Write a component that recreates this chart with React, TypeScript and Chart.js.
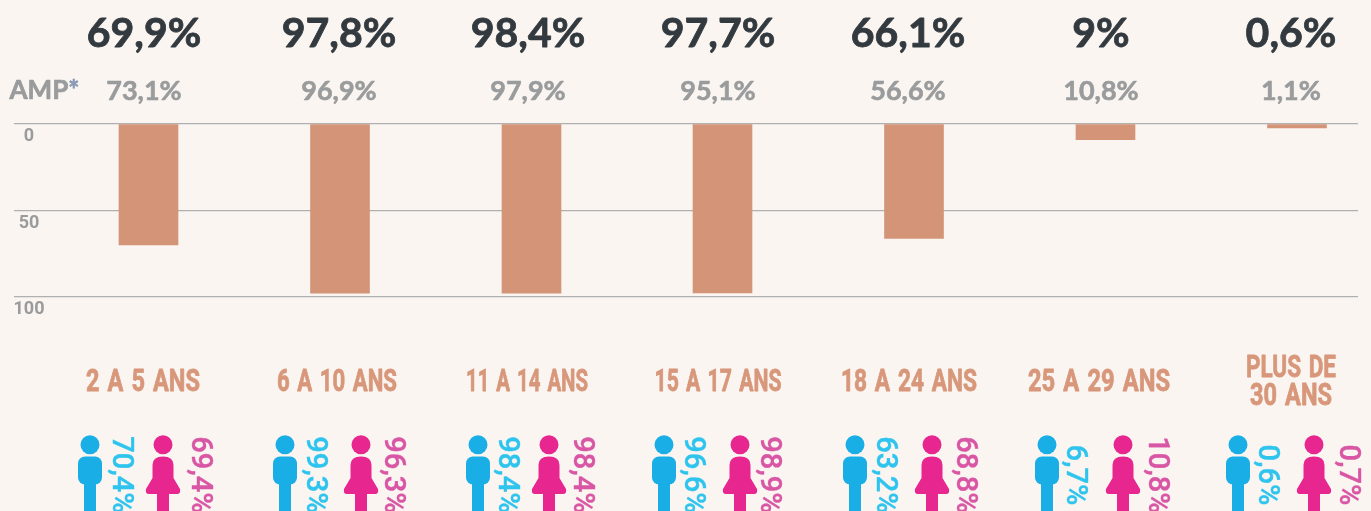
import React, { useEffect, useRef } from "react";
import { Chart, registerables } from "chart.js";

Chart.register(...registerables);

const categories = [["2 A 5 ANS"], ["6 A 10 ANS"], ["11 A 14 ANS"], ["15 A 17 ANS"], ["18 A 24 ANS"], ["25 A 29 ANS"], ["PLUS DE", "30 ANS"]];
const ensemble = [69.9, 97.8, 98.4, 97.7, 66.1, 9, 0.6];
const barValues = [69.9, 97.8, 97.8, 97.7, 66.1, 9, 2.2];
const amp = [73.1, 96.9, 97.9, 95.1, 56.6, 10.8, 1.1];
const garcons = [70.4, 99.3, 98.4, 96.6, 63.2, 6.7, 0.6];
const filles = [69.4, 96.3, 98.4, 98.9, 68.8, 10.8, 0.7];
const yTicks = [0, 50, 100];

// layout only
const BAR_X = [148.5, 340, 531.5, 722.5, 914, 1105.5, 1297];
const TITLE_X = [144, 339, 528, 718, 908, 1101, 1291];
const LABEL_X = [143, 337, 527, 718, 909, 1099, 1291];
const LABEL_W = [[114], [120], [122], [127], [136], [142], [90, 82]];
const MAN_X = [90, 285, 478, 664, 855, 1047, 1238];
const WOMAN_X = [163, 361, 549, 740, 932, 1123, 1314];
const MAN_TXT_X = [120, 314, 506, 692, 884, 1074, 1266];
const WOMAN_TXT_X = [199, 392, 581, 768, 964, 1156, 1347];

const fr = (v: number) => String(v).replace(".", ",") + "%";

function man(ctx: CanvasRenderingContext2D, cx: number) {
  ctx.fillStyle = "#1aaee6";
  ctx.beginPath();
  ctx.arc(cx, 444.7, 9.5, 0, Math.PI * 2);
  ctx.fill();
  ctx.beginPath();
  ctx.roundRect(cx - 12, 456.5, 24, 28, 7);
  ctx.fill();
  ctx.fillRect(cx - 6, 470, 12, 41);
}

function woman(ctx: CanvasRenderingContext2D, cx: number) {
  ctx.fillStyle = "#e8268f";
  ctx.beginPath();
  ctx.arc(cx, 444.7, 9.5, 0, Math.PI * 2);
  ctx.fill();
  ctx.beginPath();
  ctx.moveTo(cx - 10.5, 465);
  ctx.quadraticCurveTo(cx - 10.5, 456.5, cx, 456.5);
  ctx.quadraticCurveTo(cx + 10.5, 456.5, cx + 10.5, 465);
  ctx.lineTo(cx + 10.5, 478);
  ctx.lineTo(cx + 17, 489);
  ctx.quadraticCurveTo(cx + 18, 494, cx + 14, 494);
  ctx.lineTo(cx - 14, 494);
  ctx.quadraticCurveTo(cx - 18, 494, cx - 17, 489);
  ctx.lineTo(cx - 10.5, 478);
  ctx.closePath();
  ctx.fill();
  ctx.fillRect(cx - 6, 490, 12, 21);
}

function heavy(ctx: CanvasRenderingContext2D, text: string, x: number, y: number, weight: number) {
  ctx.strokeStyle = ctx.fillStyle as string;
  ctx.lineWidth = weight;
  ctx.lineJoin = "round";
  ctx.fillText(text, x, y);
  ctx.strokeText(text, x, y);
}

function vertical(ctx: CanvasRenderingContext2D, text: string, x: number, color: string) {
  ctx.save();
  ctx.translate(x, 475);
  ctx.rotate(Math.PI / 2);
  ctx.textAlign = "center";
  ctx.textBaseline = "middle";
  ctx.fillStyle = color;
  ctx.font = '500 29px "Roboto"';
  heavy(ctx, text, 0, 0, 0.4);
  ctx.restore();
}

function condensed(ctx: CanvasRenderingContext2D, text: string, x: number, y: number, width: number) {
  ctx.save();
  (ctx as any).wordSpacing = "3px";
  const natural = ctx.measureText(text).width;
  ctx.translate(x, y);
  ctx.scale(width / natural, 1);
  heavy(ctx, text, 0, 0, 0.8);
  ctx.restore();
}

const overlay = {
  id: "overlay",
  afterDraw(chart: any) {
    const ctx: CanvasRenderingContext2D = chart.ctx;
    const y = chart.scales.y;
    ctx.save();
    ctx.textAlign = "center";
    ctx.textBaseline = "alphabetic";

    ctx.fillStyle = "#999b9c";
    ctx.font = 'bold 18px "Roboto"';
    yTicks.forEach((t) => ctx.fillText(String(t), 29, y.getPixelForValue(t) + 17));

    ctx.textAlign = "left";
    ctx.font = 'bold 26px "Lato"';
    heavy(ctx, "AMP", 9.5, 99, 0.7);
    const w = ctx.measureText("AMP").width;
    ctx.fillStyle = "#8a9bb5";
    heavy(ctx, "*", 9.5 + w, 99, 0.7);
    ctx.textAlign = "center";

    categories.forEach((lines, i) => {
      ctx.fillStyle = "#333a3f";
      ctx.font = 'bold 41px "Lato"';
      heavy(ctx, fr(ensemble[i]), TITLE_X[i], 47, 0.8);

      ctx.fillStyle = "#999b9c";
      ctx.font = 'bold 27px "Lato"';
      heavy(ctx, fr(amp[i]), TITLE_X[i], 100, 0.6);

      ctx.fillStyle = "#d8977a";
      ctx.font = 'bold 32px "Roboto"';
      if (lines.length === 1) {
        condensed(ctx, lines[0], LABEL_X[i], 391, LABEL_W[i][0]);
      } else {
        condensed(ctx, lines[0], LABEL_X[i], 377, LABEL_W[i][0]);
        condensed(ctx, lines[1], LABEL_X[i], 405, LABEL_W[i][1]);
      }

      man(ctx, MAN_X[i]);
      woman(ctx, WOMAN_X[i]);
      vertical(ctx, fr(garcons[i]), MAN_TXT_X[i], "#2fc4ee");
      vertical(ctx, fr(filles[i]), WOMAN_TXT_X[i], "#d956a5");
    });
    ctx.restore();
  },
};

export default function App() {
  const ref = useRef<HTMLCanvasElement>(null);
  useEffect(() => {
    document.body.style.margin = "0";
    document.body.style.background = "#faf5f1";
    const chart = new Chart(ref.current!, {
      type: "bar",
      data: {
        datasets: [
          {
            data: barValues.map((v, i) => ({ x: BAR_X[i], y: v })),
            backgroundColor: "#d39477",
            barThickness: 59,
          },
        ],
      },
      options: {
        animation: false,
        responsive: false,
        layout: { padding: { left: 14, right: 13, top: 124, bottom: 214 } },
        plugins: { legend: { display: false }, tooltip: { enabled: false } },
        scales: {
          x: { type: "linear", display: false, offset: false, min: 14, max: 1358 },
          y: {
            min: 0,
            max: 100,
            reverse: true,
            afterBuildTicks: (s: any) => { s.ticks = yTicks.map((value) => ({ value })); },
            afterFit: (s: any) => { s.width = 0; },
            grid: { color: "#b0b0b0", lineWidth: 1.3, drawTicks: false },
            border: { display: false },
            ticks: { display: false },
          },
        },
      },
      plugins: [overlay],
    } as any);
    return () => chart.destroy();
  }, []);
  return <canvas ref={ref} width={1371} height={511} style={{ display: "block", width: 1371, height: 511 }} />;
}
